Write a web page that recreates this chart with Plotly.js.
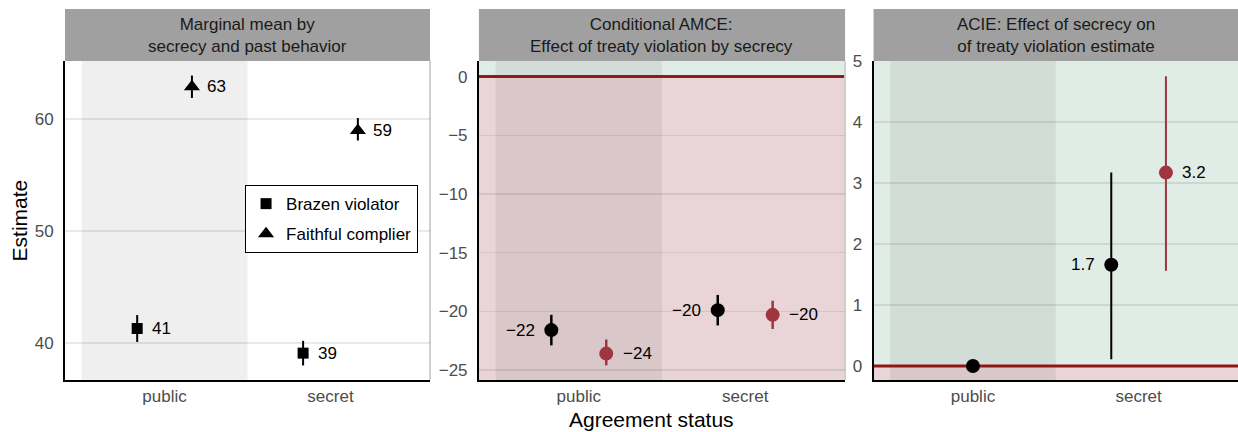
<!DOCTYPE html>
<html>
<head>
<meta charset="utf-8">
<script src="https://cdn.plot.ly/plotly-3.0.1.min.js"></script>
<style>html,body{margin:0;padding:0;background:#fff;}#chart{width:1238px;height:432px;}</style>
</head>
<body>
<div id="chart"></div>
<script>
// ---------- data ----------
const categories = ['public', 'secret'];
const panelTitles = [
  'Marginal mean by<br>secrecy and past behavior',
  'Conditional AMCE:<br>Effect of treaty violation by secrecy',
  'ACIE: Effect of secrecy on<br>of treaty violation estimate'
];
const legendNames = ['Brazen violator', 'Faithful complier'];

// Panel 1: marginal means
const mmBrazen     = [41.3, 39.1];
const mmBrazenLo   = [40.1, 38.0];
const mmBrazenHi   = [42.5, 40.2];
const mmBrazenLab  = ['41', '39'];
const mmFaithful    = [62.9, 59.0];
const mmFaithfulLo  = [61.9, 58.1];
const mmFaithfulHi  = [63.9, 60.1];
const mmFaithfulLab = ['63', '59'];

// Panel 2: conditional AMCE
const amceBlack    = [-21.6, -19.9];
const amceBlackLo  = [-22.9, -21.2];
const amceBlackHi  = [-20.3, -18.6];
const amceBlackLab = ['\u221222', '\u221220'];
const amceRed      = [-23.6, -20.3];
const amceRedLo    = [-24.6, -21.5];
const amceRedHi    = [-22.4, -19.1];
const amceRedLab   = ['\u221224', '\u221220'];

// Panel 3: ACIE
const acieBlack    = [0, 1.66];
const acieBlackLo  = [null, 0.11];
const acieBlackHi  = [null, 3.17];
const acieBlackLab = ['', '1.7'];
const acieRed      = [null, 3.17];
const acieRedLo    = [null, 1.56];
const acieRedHi    = [null, 4.75];
const acieRedLab   = ['', '3.2'];

// ---------- style ----------
const FONT = 'Liberation Sans, Arial, Helvetica, sans-serif';
const RED = '#a1343e';
const DARKRED = '#9a1a1a';
const PINK = '#e9d5d8';
const GREEN = '#e0ece6';
const SHADE = 'rgba(0,0,0,0.062)';
const GRID = 'rgba(0,0,0,0.085)';
const DODGE = 0.165;
const catPos = categories.map((c, i) => i + 1);
const ranges = [[36.7, 65.2], [-25.85, 1.33], [-0.23, 5.0]];
const domains = [[0, 0.3112], [0.3529, 0.665], [0.6893, 1]];

function xs(series, other, sign) {
  return series.map((v, i) => (v === null ? null :
    catPos[i] + ((other[i] === null || other[i] === undefined) ? 0 : sign * DODGE)));
}
function errs(v, lo, hi) {
  return {
    type: 'data', symmetric: false,
    array: v.map((d, i) => (d === null || hi[i] === null) ? 0 : hi[i] - d),
    arrayminus: v.map((d, i) => (d === null || lo[i] === null) ? 0 : d - lo[i]),
    width: 0
  };
}

const traces = [];
const annotations = [];
function addSeries(ax, v, lo, hi, other, sign, color, symbol, size, thick, labels, side, name, legend) {
  const x = xs(v, other, sign);
  const e = errs(v, lo, hi);
  e.color = color; e.thickness = thick;
  traces.push({
    type: 'scatter', mode: 'markers', x: x, y: v,
    xaxis: 'x' + (ax === 1 ? '' : ax), yaxis: 'y' + (ax === 1 ? '' : ax),
    marker: {color: color, symbol: symbol, size: size, line: {width: 0}},
    error_y: e, name: name || '', showlegend: !!legend, hoverinfo: 'skip',
    legendgroup: name || ''
  });
  v.forEach((d, i) => {
    if (d === null || !labels[i]) return;
    annotations.push({
      xref: 'x' + (ax === 1 ? '' : ax), yref: 'y' + (ax === 1 ? '' : ax),
      x: x[i], y: d, text: labels[i], showarrow: false,
      xanchor: side > 0 ? 'left' : 'right', yanchor: 'middle',
      xshift: side * 13, font: {family: FONT, size: 17, color: '#000'}
    });
  });
}

addSeries(1, mmBrazen, mmBrazenLo, mmBrazenHi, mmFaithful, -1, '#000', 'square', 11, 2, mmBrazenLab, 1, legendNames[0], true);
addSeries(1, mmFaithful, mmFaithfulLo, mmFaithfulHi, mmBrazen, 1, '#000', 'triangle-up', 14, 2, mmFaithfulLab, 1, legendNames[1], true);
addSeries(2, amceBlack, amceBlackLo, amceBlackHi, amceRed, -1, '#000', 'circle', 14, 2.5, amceBlackLab, -1.1);
addSeries(2, amceRed, amceRedLo, amceRedHi, amceBlack, 1, RED, 'circle', 14, 2.5, amceRedLab, 1.1);
addSeries(3, acieBlack, acieBlackLo, acieBlackHi, acieRed, -1, '#000', 'circle', 14, 2, acieBlackLab, -1.1);
addSeries(3, acieRed, acieRedLo, acieRedHi, acieBlack, 1, RED, 'circle', 14, 2, acieRedLab, 1.1);

const shapes = [];
const stripTop = 1 + 52 / 319;
domains.forEach((d, k) => {
  const n = k + 1, xa = 'x' + (n === 1 ? '' : n), ya = 'y' + (n === 1 ? '' : n);
  // strip
  shapes.push({type: 'rect', xref: 'paper', yref: 'paper', x0: d[0], x1: d[1], y0: 1, y1: stripTop,
    fillcolor: '#a0a0a0', line: {width: 0}, layer: 'below'});
  annotations.push({xref: 'paper', yref: 'paper', x: (d[0] + d[1]) / 2, y: (1 + stripTop) / 2,
    text: panelTitles[k], showarrow: false, xanchor: 'center', yanchor: 'middle',
    font: {family: FONT, size: 17, color: '#1a1a1a'}});
  if (n > 1) {
    const r = ranges[k];
    shapes.push({type: 'rect', xref: xa + ' domain', yref: ya, x0: 0, x1: 1, y0: r[0], y1: 0,
      fillcolor: PINK, line: {width: 0}, layer: 'below'});
    shapes.push({type: 'rect', xref: xa + ' domain', yref: ya, x0: 0, x1: 1, y0: 0, y1: r[1],
      fillcolor: GREEN, line: {width: 0}, layer: 'below'});
  }
  // shaded "public" band
  shapes.push({type: 'rect', xref: xa, yref: ya + ' domain', x0: catPos[0] - 0.5, x1: catPos[0] + 0.5, y0: 0, y1: 1,
    fillcolor: SHADE, line: {width: 0}, layer: 'below'});
  if (n > 1) {
    shapes.push({type: 'line', xref: xa + ' domain', yref: ya, x0: 0, x1: 1, y0: 0, y1: 0,
      line: {color: DARKRED, width: 3}, layer: 'below'});
  }
  if (n < 3) {
    shapes.push({type: 'line', xref: 'paper', yref: 'paper', x0: d[1], x1: d[1], y0: 0, y1: 1,
      line: {color: '#cfcfcf', width: 2}, layer: 'below'});
  }
});

annotations.push({xref: 'paper', yref: 'paper', x: 0.5004, y: -0.125, text: 'Agreement status',
  showarrow: false, xanchor: 'center', yanchor: 'middle', font: {family: FONT, size: 21, color: '#000'}});
annotations.push({xref: 'paper', yref: 'paper', x: -0.0384, y: 0.5, text: 'Estimate', textangle: -90,
  showarrow: false, xanchor: 'center', yanchor: 'middle', font: {family: FONT, size: 21, color: '#000'}});

const layout = {
  width: 1238, height: 432,
  margin: {l: 65, r: 0, t: 61, b: 52},
  paper_bgcolor: '#fff', plot_bgcolor: 'rgba(0,0,0,0)',
  font: {family: FONT, size: 17, color: '#4d4d4d'},
  showlegend: true,
  legend: {x: 0.1535, y: 0.611, xanchor: 'left', yanchor: 'top', bgcolor: '#fff',
    bordercolor: '#000', borderwidth: 1, font: {family: FONT, size: 17, color: '#000'},
    traceorder: 'grouped', tracegroupgap: 5},
  shapes: shapes, annotations: annotations
};
const dticks = [10, 5, 1];
domains.forEach((d, k) => {
  const n = k + 1, sfx = n === 1 ? '' : n;
  layout['xaxis' + sfx] = {domain: d, range: [0.4, 2.6], tickvals: catPos, ticktext: categories,
    showgrid: false, zeroline: false, showline: true, linecolor: '#000', linewidth: 2,
    ticks: '', ticklabelstandoff: 0, anchor: 'y' + sfx, fixedrange: true,
    tickfont: {family: FONT, size: 17, color: '#4d4d4d'}};
  layout['yaxis' + sfx] = {domain: [0, 1], range: ranges[k], dtick: dticks[k], tick0: 0,
    showgrid: true, gridcolor: GRID, gridwidth: 1.5, zeroline: false, showline: true,
    linecolor: '#000', linewidth: 2, ticks: '', ticklabelstandoff: 6, anchor: 'x' + sfx,
    fixedrange: true, tickfont: {family: FONT, size: 17, color: '#4d4d4d'}};
});

Plotly.newPlot('chart', traces, layout, {displayModeBar: false, staticPlot: true});
</script>
</body>
</html>
